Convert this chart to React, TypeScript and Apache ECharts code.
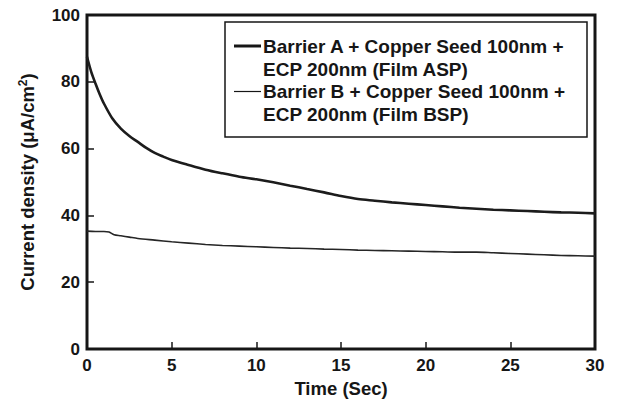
import React, { useEffect, useRef } from "react";
import * as echarts from "echarts";

const timeA = [0, 0.25, 0.5, 0.75, 1, 1.5, 2, 2.5, 3, 3.5, 4, 4.5, 5, 6, 7, 8, 9, 10, 11, 12, 13, 14, 15, 16, 17, 18, 19, 20, 21, 22, 23, 24, 25, 26, 27, 28, 29, 30];
const densityA = [87.5, 83, 79.5, 76.3, 73.5, 69, 66, 63.8, 62, 60.2, 58.7, 57.6, 56.6, 55.1, 53.7, 52.6, 51.6, 50.8, 49.9, 48.9, 47.9, 46.9, 45.8, 44.9, 44.4, 43.9, 43.5, 43.1, 42.7, 42.3, 42.0, 41.7, 41.5, 41.3, 41.1, 40.9, 40.8, 40.6];
const timeB = [0, 0.5, 1, 1.3, 1.6, 2, 2.5, 3, 4, 5, 6, 7, 8, 9, 10, 11, 12, 13, 14, 15, 16, 17, 18, 19, 20, 21, 22, 23, 24, 25, 26, 27, 28, 29, 30];
const densityB = [35.3, 35.2, 35.2, 35, 34.2, 33.9, 33.5, 33.1, 32.6, 32.1, 31.7, 31.3, 31, 30.8, 30.6, 30.4, 30.2, 30.1, 29.9, 29.8, 29.6, 29.5, 29.4, 29.3, 29.2, 29.1, 29.0, 29.0, 28.8, 28.6, 28.4, 28.2, 28.0, 27.9, 27.8];
const legendA = ["Barrier A + Copper Seed 100nm +", "ECP 200nm (Film ASP)"];
const legendB = ["Barrier B + Copper Seed 100nm +", "ECP 200nm (Film BSP)"];
const xTitle = "Time (Sec)";

const FONT = "'Liberation Sans', Arial, sans-serif";
const INK = "#161616";

export default function App() {
  const ref = useRef<HTMLDivElement>(null);
  useEffect(() => {
    if (!ref.current) return;
    const chart = echarts.init(ref.current, undefined, { renderer: "svg" });
    const legendText = (t: string, y: number) => ({
      type: "text",
      x: 263,
      y,
      style: { text: t, font: `bold 19px ${FONT}`, fill: INK, textVerticalAlign: "middle", textAlign: "left" },
      z: 101,
    });
    chart.setOption({
      animation: false,
      backgroundColor: "#fff",
      grid: { left: 87, right: 22, top: 15, bottom: 56, show: true, borderColor: INK, borderWidth: 3, backgroundColor: "transparent" },
      xAxis: {
        type: "value",
        min: 0,
        max: 30,
        interval: 5,
        name: xTitle,
        nameLocation: "middle",
        nameGap: 25,
        nameTextStyle: { fontFamily: FONT, fontWeight: "bold", fontSize: 18.5, color: INK },
        axisLine: { show: false },
        axisTick: { show: true, inside: true, length: 7, lineStyle: { color: INK, width: 1.5 } },
        axisLabel: { fontFamily: FONT, fontWeight: "bold", fontSize: 17, color: INK, margin: 8 },
        splitLine: { show: false },
      },
      yAxis: {
        type: "value",
        min: 0,
        max: 100,
        interval: 20,
        name: "Current density (μA/cm{sup|2})",
        nameLocation: "middle",
        nameGap: 49,
        nameTextStyle: {
          fontFamily: FONT,
          fontWeight: "bold",
          fontSize: 18.5,
          color: INK,
          rich: { sup: { fontFamily: FONT, fontWeight: "bold", fontSize: 12, color: INK, verticalAlign: "top", padding: [0, 0, 9, 0] } },
        },
        axisLine: { show: false },
        axisTick: { show: true, inside: true, length: 7, lineStyle: { color: INK, width: 1.5 } },
        axisLabel: { fontFamily: FONT, fontWeight: "bold", fontSize: 17, color: INK, margin: 7 },
        splitLine: { show: false },
      },
      series: [
        {
          type: "line",
          name: "A",
          data: timeA.map((t, i) => [t, densityA[i]]),
          showSymbol: false,
          smooth: 0.3,
          lineStyle: { color: "#1c1c1c", width: 2.6 },
          z: 3,
        },
        {
          type: "line",
          name: "B",
          data: timeB.map((t, i) => [t, densityB[i]]),
          showSymbol: false,
          smooth: 0.3,
          lineStyle: { color: "#262626", width: 1.6 },
          z: 3,
        },
      ],
      graphic: [
        {
          type: "rect",
          shape: { x: 225, y: 22, width: 362, height: 115 },
          style: { fill: "#fff", stroke: INK, lineWidth: 1.5 },
          z: 100,
        },
        { type: "line", shape: { x1: 234, y1: 46, x2: 261, y2: 46 }, style: { stroke: INK, lineWidth: 3 }, z: 101 },
        { type: "line", shape: { x1: 234, y1: 91.5, x2: 261, y2: 91.5 }, style: { stroke: INK, lineWidth: 1.2 }, z: 101 },
        legendText(legendA[0], 46),
        legendText(legendA[1], 69),
        legendText(legendB[0], 91.5),
        legendText(legendB[1], 114),
      ],
    });
    return () => chart.dispose();
  }, []);
  return <div ref={ref} style={{ width: 617, height: 405, position: "absolute", left: 0, top: 0 }} />;
}
